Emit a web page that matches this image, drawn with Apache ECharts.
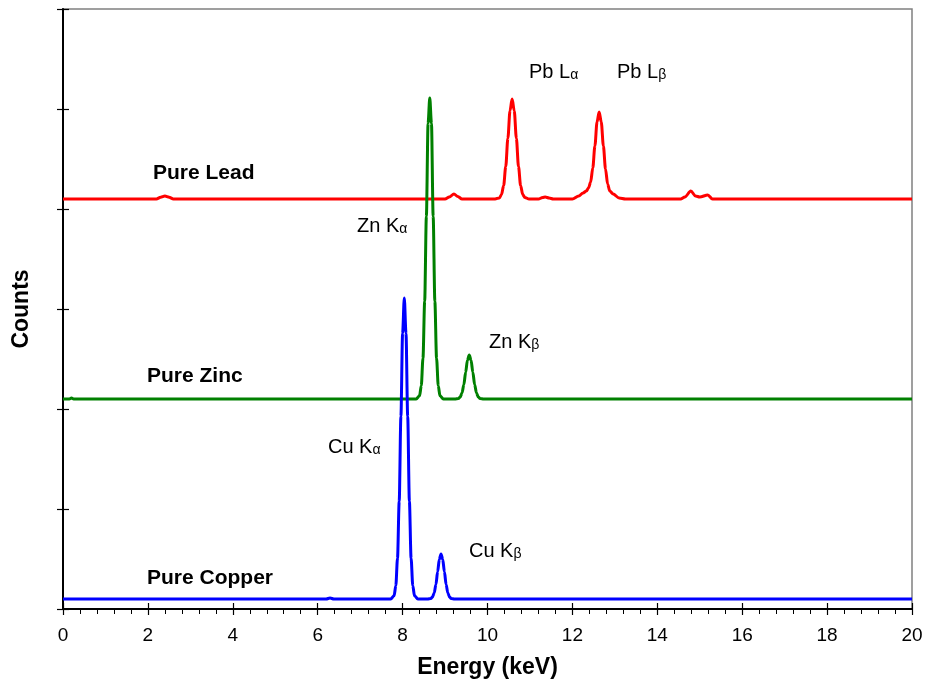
<!DOCTYPE html>
<html>
<head>
<meta charset="utf-8">
<script src="https://cdn.jsdelivr.net/npm/echarts@6/dist/echarts.min.js"></script>
<style>
html,body{margin:0;padding:0;background:#fff;}
#chart{width:926px;height:687px;}
</style>
</head>
<body>
<div id="chart"></div>
<script>
// ---- data (energy keV, counts in offset units) ----
var leadSpectrum = [[0,4.1],[1.0,4.1],[2.2,4.1],[2.3,4.118],[2.4,4.13],[2.5,4.118],[2.6,4.1],[5,4.1],[8,4.1],[9.0,4.1],[9.1,4.12],[9.21,4.15],[9.3,4.125],[9.4,4.1],[10.18,4.1],[10.28,4.111],[10.33,4.144],[10.38,4.235],[10.43,4.425],[10.48,4.707],[10.53,4.983],[10.58,5.10],[10.63,4.983],[10.68,4.707],[10.73,4.425],[10.78,4.235],[10.83,4.144],[10.88,4.115],[10.98,4.1],[11.2,4.1],[11.3,4.115],[11.36,4.12],[11.45,4.11],[11.55,4.1],[12.0,4.1],[12.15,4.13],[12.25,4.16],[12.33,4.18],[12.38,4.21],[12.43,4.27],[12.48,4.41],[12.53,4.63],[12.58,4.87],[12.63,4.97],[12.68,4.87],[12.73,4.63],[12.78,4.40],[12.83,4.25],[12.88,4.18],[12.96,4.15],[13.1,4.11],[13.25,4.1],[14.55,4.1],[14.65,4.12],[14.79,4.18],[14.9,4.13],[15.0,4.12],[15.19,4.14],[15.3,4.1],[17,4.1],[20,4.1]];
var zincSpectrum = [[0,2.1],[0.15,2.1],[0.2,2.11],[0.25,2.1],[6,2.1],[8.32,2.1],[8.40,2.133],[8.44,2.232],[8.48,2.507],[8.52,3.077],[8.56,3.926],[8.60,4.856],[8.64,5.11],[8.68,4.856],[8.72,3.926],[8.76,3.077],[8.80,2.507],[8.84,2.232],[8.88,2.133],[8.96,2.1],[9.23,2.1],[9.315,2.105],[9.3575,2.12],[9.40,2.16],[9.4425,2.243],[9.485,2.367],[9.5275,2.488],[9.57,2.54],[9.6125,2.488],[9.655,2.367],[9.6975,2.243],[9.74,2.16],[9.7825,2.12],[9.825,2.105],[9.91,2.1],[20,2.1]];
var copperSpectrum = [[0,0.1],[6.2,0.1],[6.29,0.11],[6.38,0.1],[7.72,0.1],[7.80,0.133],[7.84,0.232],[7.88,0.507],[7.92,1.077],[7.96,1.926],[8.00,2.756],[8.04,3.11],[8.08,2.756],[8.12,1.926],[8.16,1.077],[8.20,0.507],[8.24,0.232],[8.28,0.133],[8.36,0.1],[8.585,0.1],[8.665,0.105],[8.705,0.12],[8.745,0.161],[8.785,0.246],[8.825,0.373],[8.865,0.497],[8.905,0.55],[8.945,0.497],[8.985,0.373],[9.025,0.246],[9.065,0.161],[9.105,0.12],[9.145,0.105],[9.225,0.1],[20,0.1]];
var seriesNames = ['Pure Lead', 'Pure Zinc', 'Pure Copper'];
var peakMain = ['Pb L', 'Pb L', 'Zn K', 'Zn K', 'Cu K', 'Cu K'];
var peakSub = ['\u03b1', '\u03b2', '\u03b1', '\u03b2', '\u03b1', '\u03b2'];
var xTitle = 'Energy (keV)';
var yTitle = 'Counts';

// ---- layout ----
var FONT = '"Liberation Sans", Arial, sans-serif';
var peakPos = [[529,72],[617,72],[357,226],[489,342],[328,447],[469,551]];
var namePos = [[153,173],[147,376],[147,578]];
var colors = ['#ff0000', '#008000', '#0000ff'];

var chart = echarts.init(document.getElementById('chart'), null, {renderer:'canvas'});

var graphics = [];
peakMain.forEach(function(m, i){
  graphics.push({
    type:'text', x: peakPos[i][0], y: peakPos[i][1],
    style:{
      text: '{n|' + m + '}{s|' + peakSub[i] + '}',
      textVerticalAlign:'middle', textAlign:'left',
      rich:{
        n:{fontFamily:FONT, fontSize:20, lineHeight:20, fill:'#000', color:'#000'},
        s:{fontFamily:FONT, fontSize:14, lineHeight:8, verticalAlign:'bottom', fill:'#000', color:'#000'}
      }
    }
  });
});
seriesNames.forEach(function(n, i){
  graphics.push({
    type:'text', x: namePos[i][0], y: namePos[i][1],
    style:{text:n, fontFamily:FONT, fontSize:21, fontWeight:'bold', fill:'#000', textVerticalAlign:'middle', textAlign:'left'}
  });
});

function mkSeries(data, i){
  return {
    type:'line', name: seriesNames[i], data: data, xAxisIndex:0, yAxisIndex:0,
    showSymbol:false, symbol:'none', smooth:0.3, smoothMonotone:'x',
    lineStyle:{color:colors[i], width:3}, itemStyle:{color:colors[i]}, z:3
  };
}

var option = {
  animation:false,
  backgroundColor:'#fff',
  grid:{left:63, right:14, top:9, bottom:78, show:true, borderColor:'#808080', borderWidth:1.5, backgroundColor:'transparent'},
  xAxis:[
    {type:'value', min:0, max:20, interval:2, position:'bottom',
     name:xTitle, nameLocation:'middle', nameGap:47,
     nameTextStyle:{fontFamily:FONT, fontSize:23, fontWeight:'bold', color:'#000'},
     axisLine:{show:true, onZero:false, lineStyle:{color:'#000', width:2}},
     axisTick:{show:true, inside:false, length:6, lineStyle:{color:'#000', width:1.2}},
     minorTick:{show:true, splitNumber:5, length:5, lineStyle:{color:'#000', width:1}},
     axisLabel:{fontFamily:FONT, fontSize:19, color:'#000', margin:17},
     splitLine:{show:false}},
    {type:'value', min:0, max:20, interval:2, position:'bottom',
     axisLine:{show:false, onZero:false},
     axisTick:{show:true, inside:true, length:6, lineStyle:{color:'#000', width:1.2}},
     axisLabel:{show:false}, splitLine:{show:false}}
  ],
  yAxis:[
    {type:'value', min:0, max:6, interval:1, position:'left',
     name:yTitle, nameLocation:'middle', nameGap:30, nameRotate:90,
     nameTextStyle:{fontFamily:FONT, fontSize:23, fontWeight:'bold', color:'#000'},
     axisLine:{show:true, onZero:false, lineStyle:{color:'#000', width:2}},
     axisTick:{show:true, inside:false, length:6, lineStyle:{color:'#000', width:1.2}},
     axisLabel:{show:false}, splitLine:{show:false}},
    {type:'value', min:0, max:6, interval:1, position:'left',
     axisLine:{show:false, onZero:false},
     axisTick:{show:true, inside:true, length:6, lineStyle:{color:'#000', width:1.2}},
     axisLabel:{show:false}, splitLine:{show:false}}
  ],
  series:[mkSeries(leadSpectrum,0), mkSeries(zincSpectrum,1), mkSeries(copperSpectrum,2)],
  graphic: graphics
};
chart.setOption(option);
</script>
</body>
</html>
